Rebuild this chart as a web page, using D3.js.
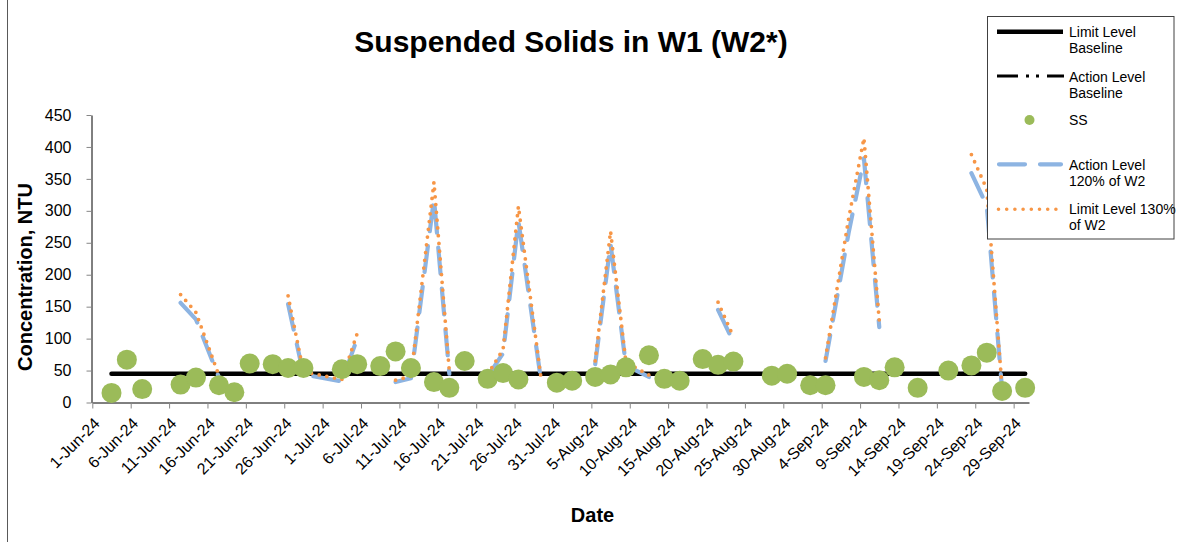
<!DOCTYPE html>
<html>
<head>
<meta charset="utf-8">
<script src="https://cdn.jsdelivr.net/npm/d3@7"></script>
<style>
  body { margin: 0; background: #fff; }
  text { font-family: "Liberation Sans", Arial, sans-serif; fill: #000; }
</style>
</head>
<body>
<svg id="chart" width="1178" height="542"></svg>
<script>
// ---- Data ----------------------------------------------------------------
// W1 suspended solids samples
const ssDates = [
  "2024-06-03","2024-06-05","2024-06-07","2024-06-12","2024-06-14","2024-06-17",
  "2024-06-19","2024-06-21","2024-06-24","2024-06-26","2024-06-28","2024-07-03",
  "2024-07-05","2024-07-08","2024-07-10","2024-07-12","2024-07-15","2024-07-17",
  "2024-07-19","2024-07-22","2024-07-24","2024-07-26","2024-07-31","2024-08-02",
  "2024-08-05","2024-08-07","2024-08-09","2024-08-12","2024-08-14","2024-08-16",
  "2024-08-19","2024-08-21","2024-08-23","2024-08-28","2024-08-30","2024-09-02",
  "2024-09-04","2024-09-09","2024-09-11","2024-09-13","2024-09-16","2024-09-20",
  "2024-09-23","2024-09-25","2024-09-27","2024-09-30"
];
const ssValues = [
  15, 67, 21, 28, 39, 27,
  16, 61, 60, 54, 54, 52,
  60, 57, 80, 54, 32, 23,
  65, 37, 46, 36, 31, 34,
  40, 44, 55, 74, 37, 34,
  68, 59, 64, 42, 45, 27,
  27, 40, 35, 55, 23, 50,
  58, 78, 18, 23
];

// W2-based levels (null = no W2 reading, line breaks there)
const w2Dates = [
  "2024-06-12","2024-06-14","2024-06-17","2024-06-19",
  "2024-06-26","2024-06-28","2024-07-03","2024-07-05","2024-07-08",
  "2024-07-10","2024-07-12","2024-07-15","2024-07-17","2024-07-19",
  "2024-07-22","2024-07-24","2024-07-26","2024-07-29","2024-07-31",
  "2024-08-05","2024-08-07","2024-08-09","2024-08-12","2024-08-14",
  "2024-08-21","2024-08-23","2024-08-28",
  "2024-09-04","2024-09-07","2024-09-09","2024-09-11","2024-09-13",
  "2024-09-23","2024-09-25","2024-09-27"
];
const actionLevel = [
  156, 130, 39, null,
  154, 44, 33, 100, null,
  32, 38, 319, 45, null,
  41, 77, 284, 30, null,
  60, 248, 58, 40, null,
  145, 95, null,
  65, 265, 382, 118, null,
  359, 308, 20
];
const limitLevel = [
  169, 141, 42, null,
  167, 48, 36, 108, null,
  35, 41, 345, 49, null,
  44, 83, 307, 33, null,
  65, 268, 63, 43, null,
  157, 103, null,
  70, 287, 414, 128, null,
  388, 334, 22
];

// Baselines
const baselineDates = ["2024-06-03", "2024-09-30"];
const limitBaseline = [45, 45];
const actionBaseline = [45, 45];

// Axes
const xTickDates = [
  "2024-06-01","2024-06-06","2024-06-11","2024-06-16","2024-06-21","2024-06-26",
  "2024-07-01","2024-07-06","2024-07-11","2024-07-16","2024-07-21","2024-07-26",
  "2024-07-31","2024-08-05","2024-08-10","2024-08-15","2024-08-20","2024-08-25",
  "2024-08-30","2024-09-04","2024-09-09","2024-09-14","2024-09-19","2024-09-24",
  "2024-09-29"
];
const yTicks = [0, 50, 100, 150, 200, 250, 300, 350, 400, 450];
const xDomain = ["2024-06-01", "2024-10-01"];

// ---- Drawing -------------------------------------------------------------
const parse = d3.timeParse("%Y-%m-%d");
const mid = d => d3.timeHour.offset(parse(d), 12);   // centre of the day band
const fmt = d3.timeFormat("%-d-%b-%y");

const colors = {
  ss: "#9BBB59",
  action: "#8DB4E2",
  limit: "#F79646",
  base: "#000000"
};

const svg = d3.select("#chart");
svg.append("rect").attr("width", 1178).attr("height", 542).attr("fill", "#fff");

// chart frame (left edge)
svg.append("line").attr("x1", 7.5).attr("x2", 7.5).attr("y1", 0).attr("y2", 542)
  .attr("stroke", "#595959").attr("stroke-width", 1);

const x = d3.scaleTime().domain(xDomain.map(parse)).range([92.3, 1029]);
const y = d3.scaleLinear().domain([0, 450]).range([402.5, 115]);

// Title
svg.append("text").attr("x", 571).attr("y", 52).attr("text-anchor", "middle")
  .style("font-size", "30px").style("font-weight", "bold")
  .text("Suspended Solids in W1 (W2*)");

// Y axis
const yAxis = svg.append("g").attr("transform", "translate(91.5,0)")
  .call(d3.axisLeft(y).tickValues(yTicks).tickSize(5).tickPadding(15).tickSizeOuter(0));
yAxis.select(".domain").attr("stroke", "#000");
yAxis.selectAll(".tick line").attr("stroke", "#868686");
yAxis.selectAll(".tick text").style("font-size", "16px")
  .style("font-family", "'Liberation Sans', Arial, sans-serif").attr("fill", "#000");

// X axis
const xAxis = svg.append("g").attr("transform", "translate(0,402.5)")
  .call(d3.axisBottom(x).tickValues(xTickDates.map(parse)).tickFormat(fmt)
    .tickSize(6).tickSizeOuter(0));
xAxis.select(".domain").attr("stroke", "#000");
xAxis.selectAll(".tick line").attr("stroke", "#868686");
xAxis.selectAll(".tick text")
  .style("font-size", "16px")
  .style("font-family", "'Liberation Sans', Arial, sans-serif")
  .attr("fill", "#000")
  .attr("text-anchor", "end")
  .attr("y", 0).attr("dy", 0)
  .attr("transform", "translate(8,22) rotate(-45)");

// Axis titles
svg.append("text")
  .attr("transform", "translate(32,277) rotate(-90)")
  .attr("text-anchor", "middle")
  .style("font-size", "20px").style("font-weight", "bold")
  .text("Concentration, NTU");
svg.append("text").attr("x", 592.5).attr("y", 522).attr("text-anchor", "middle")
  .style("font-size", "20px").style("font-weight", "bold").text("Date");

// Series helpers
const rows = (dates, vals) => dates.map((d, i) => ({ date: mid(d), v: vals[i] }));
const line = d3.line().defined(d => d.v != null).x(d => x(d.date)).y(d => y(d.v));

const plot = svg.append("g");

// Action level baseline (dash-dot-dot) and limit level baseline (solid)
plot.append("path").datum(rows(baselineDates, actionBaseline)).attr("d", line)
  .attr("fill", "none").attr("stroke", colors.base).attr("stroke-width", 3)
  .attr("stroke-dasharray", "21,8,3,7,3,8");
plot.append("path").datum(rows(baselineDates, limitBaseline)).attr("d", line)
  .attr("fill", "none").attr("stroke", colors.base).attr("stroke-width", 4.5)
  .attr("stroke-linecap", "round");

// Action level 120% of W2
plot.append("path").datum(rows(w2Dates, actionLevel)).attr("d", line)
  .attr("fill", "none").attr("stroke", colors.action).attr("stroke-width", 4.2)
  .attr("stroke-linecap", "round").attr("stroke-linejoin", "round")
  .attr("stroke-dasharray", "26,15");

// Limit level 130% of W2
plot.append("path").datum(rows(w2Dates, limitLevel)).attr("d", line)
  .attr("fill", "none").attr("stroke", colors.limit).attr("stroke-width", 3.8)
  .attr("stroke-linecap", "round").attr("stroke-dasharray", "0,7.8");

// SS markers
plot.selectAll("circle.ss").data(rows(ssDates, ssValues)).join("circle")
  .attr("class", "ss")
  .attr("cx", d => x(d.date)).attr("cy", d => y(d.v)).attr("r", 10)
  .attr("fill", colors.ss);

// ---- Legend --------------------------------------------------------------
const lg = svg.append("g");
lg.append("rect").attr("x", 987.5).attr("y", 16.5).attr("width", 186.5).attr("height", 222.5)
  .attr("fill", "#fff").attr("stroke", "#404040").attr("stroke-width", 1);

const lx1 = 997, lx2 = 1063, tx = 1069;
const legendText = (lines, y0) => {
  const t = lg.append("text").attr("x", tx).attr("y", y0).style("font-size", "14px");
  lines.forEach((s, i) => t.append("tspan").attr("x", tx).attr("dy", i ? 16 : 0).text(s));
};

lg.append("line").attr("x1", lx1).attr("x2", lx2).attr("y1", 31.7).attr("y2", 31.7)
  .attr("stroke", colors.base).attr("stroke-width", 4.5);
legendText(["Limit Level", "Baseline"], 36.5);

lg.append("line").attr("x1", lx1).attr("x2", lx2 + 1).attr("y1", 76).attr("y2", 76)
  .attr("stroke", colors.base).attr("stroke-width", 3)
  .attr("stroke-dasharray", "21,8,3,7,3,8");
legendText(["Action Level", "Baseline"], 81.5);

lg.append("circle").attr("cx", 1029.5).attr("cy", 120).attr("r", 5).attr("fill", colors.ss);
legendText(["SS"], 125);

lg.append("line").attr("x1", lx1 + 2).attr("x2", lx2 - 2).attr("y1", 164.3).attr("y2", 164.3)
  .attr("stroke", colors.action).attr("stroke-width", 4.2)
  .attr("stroke-linecap", "round").attr("stroke-dasharray", "26,15");
legendText(["Action Level", "120% of W2"], 169.5);

lg.append("line").attr("x1", lx1 + 1.5).attr("x2", lx2).attr("y1", 209.3).attr("y2", 209.3)
  .attr("stroke", colors.limit).attr("stroke-width", 3.6)
  .attr("stroke-linecap", "round").attr("stroke-dasharray", "0,8.2");
legendText(["Limit Level 130%", "of W2"], 214.3);
</script>
</body>
</html>
